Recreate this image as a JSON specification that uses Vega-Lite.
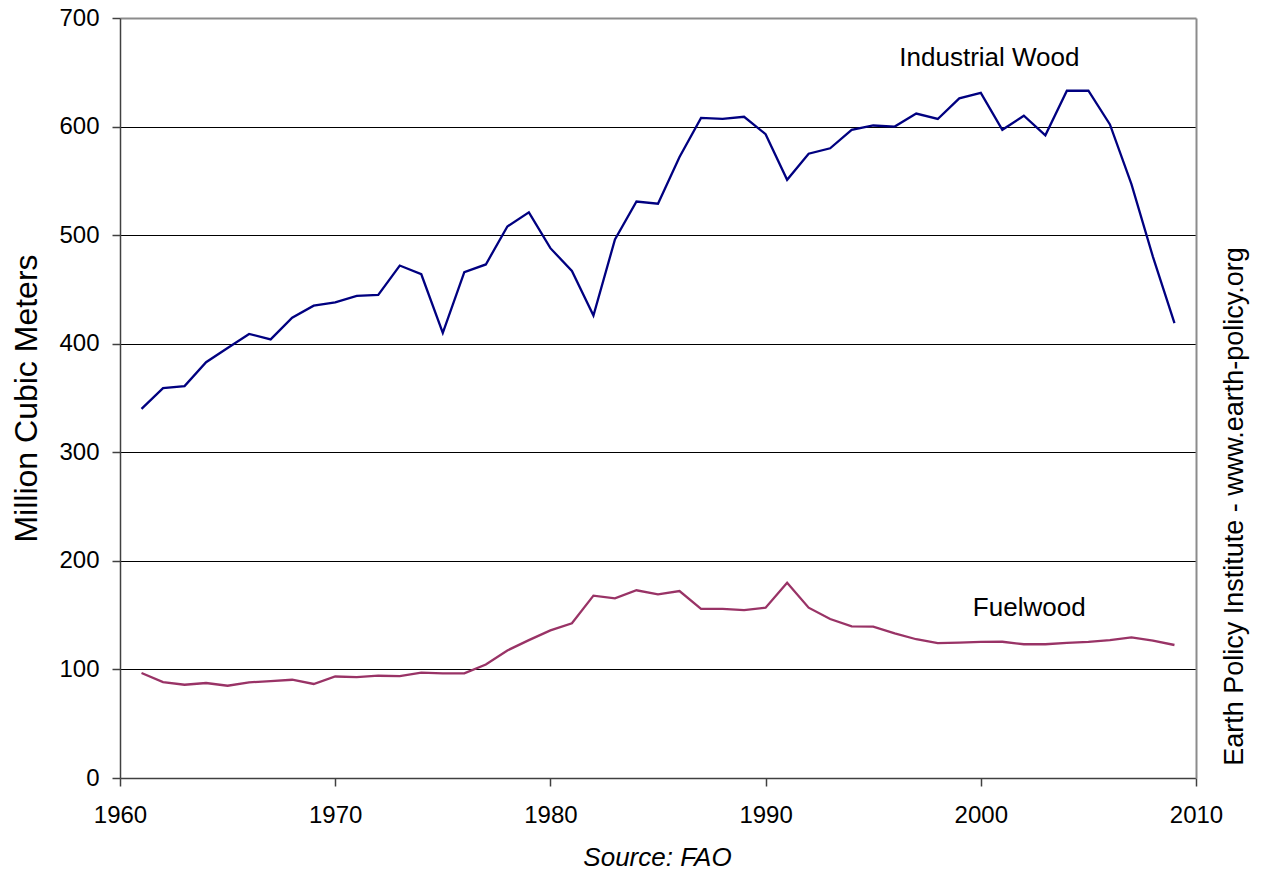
{
  "$schema": "https://vega.github.io/schema/vega-lite/v6.json",
  "width": 1076,
  "height": 760,
  "autosize": {"type": "none"},
  "padding": {"left": 120, "top": 18, "right": 66, "bottom": 100},
  "background": "white",
  "config": {
    "view": {"stroke": null},
    "font": "Liberation Sans",
    "axis": {"labelFont": "Liberation Sans", "titleFont": "Liberation Sans", "labelColor": "black", "titleColor": "black", "titleFontWeight": "normal"}
  },
  "datasets": {
    "series": [
      {"year": 1961, "value": 340, "series": "Industrial Wood"},
      {"year": 1962, "value": 359, "series": "Industrial Wood"},
      {"year": 1963, "value": 361, "series": "Industrial Wood"},
      {"year": 1964, "value": 383, "series": "Industrial Wood"},
      {"year": 1965, "value": 396, "series": "Industrial Wood"},
      {"year": 1966, "value": 409, "series": "Industrial Wood"},
      {"year": 1967, "value": 404, "series": "Industrial Wood"},
      {"year": 1968, "value": 424, "series": "Industrial Wood"},
      {"year": 1969, "value": 435, "series": "Industrial Wood"},
      {"year": 1970, "value": 438, "series": "Industrial Wood"},
      {"year": 1971, "value": 444, "series": "Industrial Wood"},
      {"year": 1972, "value": 445, "series": "Industrial Wood"},
      {"year": 1973, "value": 472, "series": "Industrial Wood"},
      {"year": 1974, "value": 464, "series": "Industrial Wood"},
      {"year": 1975, "value": 410, "series": "Industrial Wood"},
      {"year": 1976, "value": 466, "series": "Industrial Wood"},
      {"year": 1977, "value": 473, "series": "Industrial Wood"},
      {"year": 1978, "value": 508, "series": "Industrial Wood"},
      {"year": 1979, "value": 521, "series": "Industrial Wood"},
      {"year": 1980, "value": 488, "series": "Industrial Wood"},
      {"year": 1981, "value": 467, "series": "Industrial Wood"},
      {"year": 1982, "value": 426, "series": "Industrial Wood"},
      {"year": 1983, "value": 496, "series": "Industrial Wood"},
      {"year": 1984, "value": 531, "series": "Industrial Wood"},
      {"year": 1985, "value": 529, "series": "Industrial Wood"},
      {"year": 1986, "value": 572, "series": "Industrial Wood"},
      {"year": 1987, "value": 608, "series": "Industrial Wood"},
      {"year": 1988, "value": 607, "series": "Industrial Wood"},
      {"year": 1989, "value": 609, "series": "Industrial Wood"},
      {"year": 1990, "value": 593, "series": "Industrial Wood"},
      {"year": 1991, "value": 551, "series": "Industrial Wood"},
      {"year": 1992, "value": 575, "series": "Industrial Wood"},
      {"year": 1993, "value": 580, "series": "Industrial Wood"},
      {"year": 1994, "value": 597, "series": "Industrial Wood"},
      {"year": 1995, "value": 601, "series": "Industrial Wood"},
      {"year": 1996, "value": 600, "series": "Industrial Wood"},
      {"year": 1997, "value": 612, "series": "Industrial Wood"},
      {"year": 1998, "value": 607, "series": "Industrial Wood"},
      {"year": 1999, "value": 626, "series": "Industrial Wood"},
      {"year": 2000, "value": 631, "series": "Industrial Wood"},
      {"year": 2001, "value": 597, "series": "Industrial Wood"},
      {"year": 2002, "value": 610, "series": "Industrial Wood"},
      {"year": 2003, "value": 592, "series": "Industrial Wood"},
      {"year": 2004, "value": 633, "series": "Industrial Wood"},
      {"year": 2005, "value": 633, "series": "Industrial Wood"},
      {"year": 2006, "value": 602, "series": "Industrial Wood"},
      {"year": 2007, "value": 547, "series": "Industrial Wood"},
      {"year": 2008, "value": 480, "series": "Industrial Wood"},
      {"year": 2009, "value": 419, "series": "Industrial Wood"},
      {"year": 1961, "value": 96.7, "series": "Fuelwood"},
      {"year": 1962, "value": 88.4, "series": "Fuelwood"},
      {"year": 1963, "value": 85.9, "series": "Fuelwood"},
      {"year": 1964, "value": 87.5, "series": "Fuelwood"},
      {"year": 1965, "value": 85, "series": "Fuelwood"},
      {"year": 1966, "value": 88.1, "series": "Fuelwood"},
      {"year": 1967, "value": 89.3, "series": "Fuelwood"},
      {"year": 1968, "value": 90.5, "series": "Fuelwood"},
      {"year": 1969, "value": 86.6, "series": "Fuelwood"},
      {"year": 1970, "value": 93.5, "series": "Fuelwood"},
      {"year": 1971, "value": 93, "series": "Fuelwood"},
      {"year": 1972, "value": 94.2, "series": "Fuelwood"},
      {"year": 1973, "value": 93.8, "series": "Fuelwood"},
      {"year": 1974, "value": 97, "series": "Fuelwood"},
      {"year": 1975, "value": 96.4, "series": "Fuelwood"},
      {"year": 1976, "value": 96.4, "series": "Fuelwood"},
      {"year": 1977, "value": 104.5, "series": "Fuelwood"},
      {"year": 1978, "value": 117.5, "series": "Fuelwood"},
      {"year": 1979, "value": 127, "series": "Fuelwood"},
      {"year": 1980, "value": 136, "series": "Fuelwood"},
      {"year": 1981, "value": 142.5, "series": "Fuelwood"},
      {"year": 1982, "value": 168, "series": "Fuelwood"},
      {"year": 1983, "value": 165.5, "series": "Fuelwood"},
      {"year": 1984, "value": 172.9, "series": "Fuelwood"},
      {"year": 1985, "value": 169.2, "series": "Fuelwood"},
      {"year": 1986, "value": 172.2, "series": "Fuelwood"},
      {"year": 1987, "value": 155.7, "series": "Fuelwood"},
      {"year": 1988, "value": 155.7, "series": "Fuelwood"},
      {"year": 1989, "value": 154.7, "series": "Fuelwood"},
      {"year": 1990, "value": 156.9, "series": "Fuelwood"},
      {"year": 1991, "value": 179.9, "series": "Fuelwood"},
      {"year": 1992, "value": 156.9, "series": "Fuelwood"},
      {"year": 1993, "value": 146.4, "series": "Fuelwood"},
      {"year": 1994, "value": 139.7, "series": "Fuelwood"},
      {"year": 1995, "value": 139.4, "series": "Fuelwood"},
      {"year": 1996, "value": 133.3, "series": "Fuelwood"},
      {"year": 1997, "value": 127.8, "series": "Fuelwood"},
      {"year": 1998, "value": 124.3, "series": "Fuelwood"},
      {"year": 1999, "value": 124.6, "series": "Fuelwood"},
      {"year": 2000, "value": 125.3, "series": "Fuelwood"},
      {"year": 2001, "value": 125.5, "series": "Fuelwood"},
      {"year": 2002, "value": 123.2, "series": "Fuelwood"},
      {"year": 2003, "value": 123.2, "series": "Fuelwood"},
      {"year": 2004, "value": 124.4, "series": "Fuelwood"},
      {"year": 2005, "value": 125.3, "series": "Fuelwood"},
      {"year": 2006, "value": 127, "series": "Fuelwood"},
      {"year": 2007, "value": 129.5, "series": "Fuelwood"},
      {"year": 2008, "value": 126.5, "series": "Fuelwood"},
      {"year": 2009, "value": 122.5, "series": "Fuelwood"}
    ],
    "labels": [
      {"year": 2000.4, "value": 663, "label": "Industrial Wood"},
      {"year": 2002.25, "value": 156.7, "label": "Fuelwood"}
    ]
  },
  "resolve": {"axis": {"x": "independent", "y": "independent"}},
  "layer": [
    {
      "data": {"name": "series"},
      "mark": {"type": "line", "strokeWidth": 2.3, "clip": false},
      "encoding": {
        "x": {
          "field": "year", "type": "quantitative",
          "scale": {"domain": [1960, 2010], "nice": false, "zero": false},
          "axis": {
            "orient": "bottom", "values": [1960, 1970, 1980, 1990, 2000, 2010], "format": "d",
            "grid": false, "domainColor": "#404040", "domainWidth": 1.5,
            "tickColor": "#404040", "tickSize": 8, "tickWidth": 1.5,
            "labelFontSize": 24, "labelPadding": 17, "labelFlush": false,
            "title": "Source: FAO", "titleFontSize": 26, "titleFontStyle": "italic",
            "titleX": 537, "titleY": 79, "titleBaseline": "middle", "titleAlign": "center"
          }
        },
        "y": {
          "field": "value", "type": "quantitative",
          "scale": {"domain": [0, 700], "nice": false},
          "axis": {
            "orient": "left", "values": [0, 100, 200, 300, 400, 500, 600, 700],
            "grid": true,
            "gridColor": {"condition": {"test": "datum.value === 700 || datum.value === 0", "value": "transparent"}, "value": "#000000"},
            "gridWidth": 1,
            "domainColor": "#404040", "domainWidth": 1.5,
            "tickColor": "#404040", "tickSize": 8, "tickWidth": 1.5,
            "labelFontSize": 24, "labelPadding": 13, "labelFlush": false,
            "title": "Million Cubic Meters", "titleFontSize": 32,
            "titleAngle": -90, "titleX": -94, "titleY": 380,
            "titleBaseline": "middle", "titleAlign": "center"
          }
        },
        "color": {
          "field": "series", "type": "nominal",
          "scale": {"domain": ["Industrial Wood", "Fuelwood"], "range": ["#000080", "#993366"]},
          "legend": null
        }
      }
    },
    {
      "data": {"name": "labels"},
      "mark": {"type": "text", "fontSize": 26, "font": "Liberation Sans", "color": "black", "align": "center", "baseline": "middle"},
      "encoding": {
        "x": {
          "field": "year", "type": "quantitative",
          "axis": {"orient": "top", "labels": false, "ticks": false, "grid": false, "domainColor": "#8c8c8c", "domainWidth": 2, "title": null}
        },
        "y": {
          "field": "value", "type": "quantitative",
          "axis": {
            "orient": "right", "labels": false, "ticks": false, "grid": false, "domainColor": "#8c8c8c", "domainWidth": 2,
            "title": "Earth Policy Institute - www.earth-policy.org", "titleFontSize": 27,
            "titleAngle": -90, "titleX": 38, "titleY": 488, "titleBaseline": "middle", "titleAlign": "center"
          }
        },
        "text": {"field": "label", "type": "nominal"}
      }
    }
  ]
}
